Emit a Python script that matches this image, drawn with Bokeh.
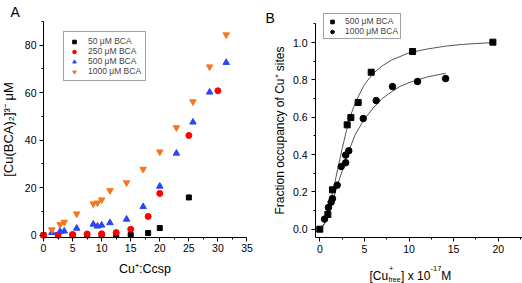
from bokeh.plotting import figure
from bokeh.layouts import row
from bokeh.models import Range1d, Legend, LegendItem, Label, FixedTicker, PrintfTickFormatter
from bokeh.embed import file_html
from bokeh.resources import INLINE

FONT = "Liberation Sans"

# ---------------- Panel A data ----------------
a_x_50 = [0, 2.5, 5, 7.5, 10, 12.5, 15, 18, 20, 25]
a_y_50 = [0, 0, 0, 0, 0, 0.1, 0.1, 0.9, 3.0, 15.9]
a_x_250 = [0, 2.5, 5, 7.5, 10, 12.5, 15, 18, 20, 25, 30]
a_y_250 = [0, 0.1, 0.3, 0.5, 0.6, 1.1, 2.5, 7.9, 17.6, 42.0, 60.8]
a_x_500 = [1.43, 2.86, 3.57, 5.71, 8.57, 9.29, 10, 11.43, 14.29, 17.14, 20, 22.86, 25.71, 28.57, 31.43]
a_y_500 = [1.1, 1.6, 1.7, 2.9, 4.6, 3.8, 4.2, 5.2, 6.7, 12.0, 20.6, 34.5, 47.6, 60.2, 72.7]
a_x_1000 = [1.43, 2.86, 3.57, 5.71, 8.57, 9.29, 10, 11.43, 14.29, 17.14, 20, 22.86, 25.71, 28.57, 31.43]
a_y_1000 = [2.3, 4.5, 5.5, 9.0, 13.2, 13.6, 14.9, 18.8, 22.1, 27.8, 35.1, 45.3, 56.2, 70.9, 84.4]
a_labels = ["50 \u03bcM BCA", "250 \u03bcM BCA", "500 \u03bcM BCA", "1000 \u03bcM BCA"]
a_xticks = [0, 5, 10, 15, 20, 25, 30, 35]
a_xminor = [2.5, 7.5, 12.5, 17.5, 22.5, 27.5, 32.5]
a_yticks = [0, 20, 40, 60, 80]
a_yminor = [10, 30, 50, 70, 90]

# ---------------- Panel B data ----------------
b_x_500 = [0, 0.9, 1.42, 3.07, 3.48, 4.3, 5.76, 10.4, 19.4]
b_y_500 = [0, 0.079, 0.211, 0.559, 0.598, 0.679, 0.841, 0.952, 1.002]
b_x_1000 = [0.53, 0.97, 1.27, 1.42, 1.95, 2.4, 2.9, 2.9, 3.25, 4.87, 6.32, 8.15, 10.95, 14.1]
b_y_1000 = [0.054, 0.116, 0.145, 0.164, 0.236, 0.336, 0.356, 0.397, 0.42, 0.593, 0.689, 0.764, 0.791, 0.807]
b_fit500_x = [0, 0.5, 1, 1.5, 2, 2.5, 3, 3.5, 4, 5, 6, 7, 8, 10, 12, 14, 16, 19.4]
b_fit500_y = [0, 0.03, 0.11, 0.21, 0.32, 0.43, 0.53, 0.615, 0.68, 0.775, 0.835, 0.875, 0.905, 0.945, 0.965, 0.98, 0.99, 1.0]
b_fit1000_x = [0, 0.5, 1, 1.5, 2, 2.5, 3, 3.5, 4, 5, 6, 7, 8, 9, 10, 11, 12, 13, 14.1]
b_fit1000_y = [0, 0.025, 0.085, 0.16, 0.24, 0.31, 0.39, 0.45, 0.51, 0.59, 0.65, 0.70, 0.735, 0.765, 0.785, 0.80, 0.815, 0.825, 0.835]
b_labels = ["500 \u03bcM BCA", "1000 \u03bcM BCA"]
b_xticks = [0, 5, 10, 15, 20]
b_xminor = [2.5, 7.5, 12.5, 17.5, 22.5]
b_yticks = [0, 0.2, 0.4, 0.6, 0.8, 1.0]
b_yminor = [0.1, 0.3, 0.5, 0.7, 0.9, 1.1]

BLACK = "#000000"
RED = "#ff0000"
BLUE = "#2a45f5"
ORANGE = "#f5761f"


def style_axes(p, tick_size="10.5px"):
    for ax in (p.xaxis[0], p.yaxis[0]):
        ax.axis_line_color = "black"
        ax.axis_line_width = 1
        ax.major_tick_line_color = "black"
        ax.minor_tick_line_color = "black"
        ax.major_tick_in = 0
        ax.major_tick_out = 4
        ax.minor_tick_in = 0
        ax.minor_tick_out = 2
        ax.major_label_text_font = FONT
        ax.major_label_text_font_size = tick_size
        ax.major_label_text_color = "black"
        ax.axis_label_text_font = FONT
        ax.axis_label_text_font_style = "normal"
        ax.axis_label_text_color = "black"
    p.xgrid.visible = False
    p.ygrid.visible = False
    p.outline_line_color = None


# ---------------- Panel A (page x 0..263, y 0..283) ----------------
# page mapping: x=0 at px 43, 5.814 px/unit; y=0 at py 234.7, 2.375 px/unit
pA = figure(width=263, height=283, output_backend="svg", toolbar_location=None,
            x_range=Range1d(-7.396, 37.84), y_range=Range1d(-20.34, 98.82),
            min_border=0, min_border_left=0, min_border_right=0,
            min_border_top=0, min_border_bottom=0)
style_axes(pA)
pA.xaxis.fixed_location = -0.97
pA.yaxis.fixed_location = 0
pA.xaxis.ticker = FixedTicker(ticks=a_xticks, minor_ticks=a_xminor)
pA.yaxis.ticker = FixedTicker(ticks=a_yticks, minor_ticks=a_yminor)
pA.xaxis.bounds = (0, 35)
pA.yaxis.bounds = (-0.97, 90)
pA.xaxis.major_label_standoff = 3
pA.yaxis.major_label_standoff = 3
pA.xaxis.axis_label = "Cu\u207a:Ccsp"
pA.xaxis.axis_label_text_font_size = "12.5px"
pA.xaxis.axis_label_standoff = 6
pA.yaxis.axis_label = "[Cu(BCA)\u2082]\u00b3\u207b \u03bcM"
pA.yaxis.axis_label_text_font_size = "13px"
pA.yaxis.axis_label_standoff = 6

rA1 = pA.scatter(a_x_50, a_y_50, marker="square", size=5, color=BLACK)
rA2 = pA.scatter(a_x_250, a_y_250, marker="circle", size=6, color=RED)
rA3 = pA.scatter(a_x_500, a_y_500, marker="triangle", size=6.5, color=BLUE)
rA4 = pA.scatter(a_x_1000, a_y_1000, marker="inverted_triangle", size=6.5, color=ORANGE)

legA = Legend(items=[LegendItem(label=a_labels[0], renderers=[rA1]),
                     LegendItem(label=a_labels[1], renderers=[rA2]),
                     LegendItem(label=a_labels[2], renderers=[rA3]),
                     LegendItem(label=a_labels[3], renderers=[rA4])],
              location=(63, 202), margin=0, padding=4, spacing=0,
              glyph_width=12, glyph_height=9, label_height=9, label_standoff=8,
              label_text_font=FONT, label_text_font_size="8.5px",
              border_line_color="#444444", border_line_width=1,
              background_fill_color="white", background_fill_alpha=1)
pA.add_layout(legA)
pA.add_layout(Label(x=(10 - 43) / 5.814, y=(234.7 - 12) / 2.375, text="A", text_font=FONT,
                    text_font_size="14px", text_baseline="alphabetic", text_color="black"))

# ---------------- Panel B (page x 263..522, y 0..283) ----------------
# page mapping: x=0 at px 319.3, 8.92 px/unit; y=0 at py 228.7, 186.67 px/unit
pB = figure(width=259, height=283, output_backend="svg", toolbar_location=None,
            x_range=Range1d(-6.31, 22.72), y_range=Range1d(-0.2909, 1.2252),
            min_border=0, min_border_left=0, min_border_right=0,
            min_border_top=0, min_border_bottom=0)
style_axes(pB)
pB.xaxis.fixed_location = -0.0445
pB.yaxis.fixed_location = -0.48
pB.xaxis.ticker = FixedTicker(ticks=b_xticks, minor_ticks=b_xminor)
pB.yaxis.ticker = FixedTicker(ticks=b_yticks, minor_ticks=b_yminor)
pB.yaxis.formatter = PrintfTickFormatter(format="%.1f")
pB.xaxis.bounds = (-0.48, 22.72)
pB.yaxis.bounds = (-0.0445, 1.1)
pB.xaxis.major_label_standoff = 3
pB.yaxis.major_label_standoff = 4
pB.yaxis.axis_label = "Fraction occupancy of Cu\u207a sites"
pB.yaxis.axis_label_text_font_size = "12px"
pB.yaxis.axis_label_standoff = 3

pB.line(b_fit500_x, b_fit500_y, line_color="#555555", line_width=1)
pB.line(b_fit1000_x, b_fit1000_y, line_color="#555555", line_width=1)
rB1 = pB.scatter(b_x_500, b_y_500, marker="square", size=6, color=BLACK)
rB2 = pB.scatter(b_x_1000, b_y_1000, marker="circle", size=6.5, color=BLACK)

legB = Legend(items=[LegendItem(label=b_labels[0], renderers=[rB1]),
                     LegendItem(label=b_labels[1], renderers=[rB2])],
              location=(60, 244), margin=0, padding=2, spacing=0,
              glyph_width=12, glyph_height=9, label_height=9, label_standoff=7,
              label_text_font=FONT, label_text_font_size="8.5px",
              border_line_color="#444444", border_line_width=1,
              background_fill_color="white", background_fill_alpha=1)
pB.add_layout(legB)


def bx(px):
    return (px - 319.3) / 8.92


def by(py):
    return (228.7 - py) / 186.67


pB.add_layout(Label(x=bx(265), y=by(17), text="B", text_font=FONT, text_font_size="14px",
                    text_baseline="alphabetic", text_color="black"))

# composite x-axis label: [Cu+free] x 10^-17 M
pieces = [
    ("[Cu", 369.0, 276.0, "12px"),
    ("+", 388.5, 268.0, "7.5px"),
    ("free", 388.0, 279.5, "7px"),
    ("] x 10", 400.6, 276.0, "12px"),
    ("-17", 430.0, 268.0, "7.5px"),
    (" M", 440.8, 276.0, "12px"),
]
for txt, px, py, fs in pieces:
    pB.add_layout(Label(x=bx(px), y=by(py), text=txt, text_font=FONT, text_font_size=fs,
                        text_baseline="alphabetic", text_color="black"))

layout = row(pA, pB)
open("out.html", "w").write(file_html(layout, INLINE))
